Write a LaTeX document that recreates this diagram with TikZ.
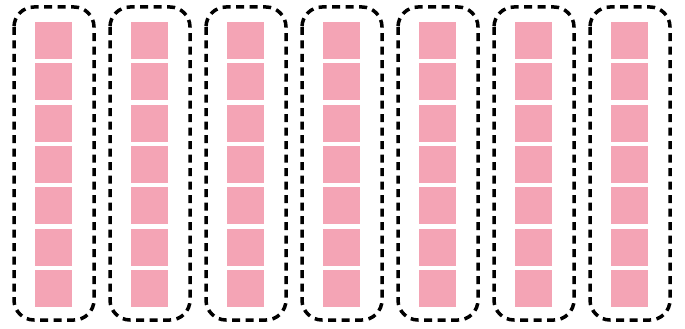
\documentclass[tikz,border=0pt]{standalone}
\definecolor{sqpink}{RGB}{244,164,181}
\tikzset{
  sq/.style={fill=sqpink, draw=none, minimum width=37pt, minimum height=37pt, inner sep=0pt, outer sep=0pt},
  grp/.style={draw=black, line width=3.5pt, dash pattern=on 8pt off 5.5pt, rounded corners=20pt}
}
\begin{document}
\begin{tikzpicture}[x=1pt,y=-1pt]
\useasboundingbox (0,0) rectangle (685,329);
\foreach \c in {0,...,6}{
  \foreach \r in {0,...,6}{
    \node[sq] (s\c-\r) at ({53.5+96*\c},{40.5+41.3*\r}) {};
  }
  \draw[grp] ({14+96*\c},7) rectangle ({94+96*\c},320);
}
\end{tikzpicture}
\end{document}
